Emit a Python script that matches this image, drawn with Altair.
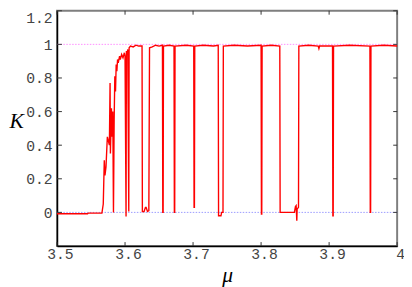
import altair as alt
import pandas as pd

# K(mu)
mu = [
    3.500, 3.545, 3.546, 3.566, 3.568, 3.5695, 3.5705, 3.572, 3.574, 3.577,
    3.578, 3.5785, 3.580, 3.581, 3.582, 3.583, 3.584, 3.585, 3.586, 3.587,
    3.588, 3.589, 3.590, 3.592, 3.593, 3.595, 3.597, 3.599, 3.600, 3.6015,
    3.602, 3.603, 3.604, 3.6055, 3.606, 3.608, 3.612, 3.616, 3.620, 3.625,
    3.6255, 3.6265, 3.628, 3.630, 3.631, 3.633, 3.635, 3.636, 3.640, 3.645,
    3.650, 3.655, 3.6555, 3.656, 3.6565, 3.665, 3.672, 3.6725, 3.673, 3.6735,
    3.690, 3.7010, 3.7015, 3.7020, 3.7025, 3.715, 3.730, 3.737, 3.7375, 3.741,
    3.742, 3.744, 3.7445, 3.760, 3.780, 3.800, 3.8005, 3.801, 3.8015, 3.815,
    3.8275, 3.828, 3.849, 3.8505, 3.8515, 3.852, 3.8525, 3.853, 3.855, 3.8555,
    3.870, 3.884, 3.885, 3.886, 3.905, 3.9055, 3.906, 3.9065, 3.930, 3.960,
    3.9605, 3.961, 3.9615, 3.980, 4.000,
]
K = [
    -0.008, -0.008, -0.004, -0.004, 0.05, 0.31, 0.22, 0.27, 0.45, 0.40,
    0.77, 0.35, 0.62, 0.45, 0.60, 0.00, 0.55, 0.81, 0.72, 0.88,
    0.84, 0.91, 0.89, 0.93, 0.91, 0.94, 0.92, 0.95, 0.93, -0.025,
    0.96, 0.94, 0.97, 0.005, 0.98, 0.99, 0.985, 0.995, 0.99, 0.99,
    0.005, 0.005, 0.005, 0.03, 0.03, 0.005, 0.01, 0.98, 0.985, 0.995,
    0.99, 0.995, 0.0, 0.0, 0.99, 0.995, 0.99, 0.0, 0.0, 0.99,
    0.995, 0.99, 0.03, 0.03, 0.99, 0.995, 0.99, 0.995, -0.02, -0.02,
    0.0, 0.0, 0.99, 0.995, 0.99, 0.995, -0.01, -0.01, 0.99, 0.995,
    0.99, 0.0, 0.0, 0.035, 0.04, 0.0, -0.05, 0.02, 0.03, 0.99,
    0.995, 0.99, 0.975, 0.99, 0.99, -0.02, -0.02, 0.99, 0.995, 0.99,
    0.0, 0.0, 0.99, 0.995, 0.99,
]

x_ticks = [3.5, 3.6, 3.7, 3.8, 3.9, 4.0]
y_ticks = [0, 0.2, 0.4, 0.6, 0.8, 1.0, 1.2]
ref_levels = [0, 1]
ref_colors = ["#9a9aff", "#ff8cff"]

W, H = 347, 240
xs = alt.Scale(domain=[3.5, 4.0], nice=False, zero=False)
ys = alt.Scale(domain=[-0.2, 1.2], nice=False, zero=False)

df = pd.DataFrame({"mu": mu, "K": K, "i": list(range(len(mu)))})
ref_df = pd.DataFrame({"level": ref_levels, "c": ref_colors})
xt_df = pd.DataFrame({"v": x_ticks})
yt_df = pd.DataFrame({"v": y_ticks})

font_mono = "'Liberation Mono', 'DejaVu Sans Mono', monospace"
font_serif = "'Liberation Serif', 'DejaVu Serif', serif"

ax_x = alt.Axis(
    values=x_ticks, format="~g", ticks=False, grid=False, domain=True,
    domainColor="#000000", domainWidth=1.5, labelPadding=1, labelOffset=3,
    labelFlush=False,
    labelFont=font_mono, labelFontSize=15, labelColor="#444444",
    title="μ", titleFont=font_serif, titleFontStyle="italic",
    titleFontWeight="normal", titleFontSize=22, titleColor="#000000",
    titleBaseline="alphabetic", titleY=36)
ax_y = alt.Axis(
    values=y_ticks, format="~g", ticks=False, grid=False, domain=True,
    domainColor="#000000", domainWidth=1.5, labelPadding=5, labelFlush=True,
    labelFont=font_mono, labelFontSize=15, labelColor="#444444",
    title="K", titleFont=font_serif, titleFontStyle="italic",
    titleFontWeight="normal", titleFontSize=22, titleColor="#000000",
    titleAngle=0, titleAlign="left", titleBaseline="middle",
    titleX=-49, titleY=112)

refs = alt.Chart(ref_df).mark_rule(strokeWidth=1, strokeDash=[1.5, 1.5]).encode(
    y=alt.Y("level:Q", scale=ys, axis=ax_y),
    color=alt.Color("c:N", scale=None, legend=None),
)

line = alt.Chart(df).mark_line(color="#ff0000", strokeWidth=1.4).encode(
    x=alt.X("mu:Q", scale=xs, axis=ax_x),
    y=alt.Y("K:Q", scale=ys, axis=ax_y),
    order="i:Q",
)

tick_col = "#333333"
xt_bottom = alt.Chart(xt_df).mark_rule(color=tick_col, strokeWidth=1).encode(
    x=alt.X("v:Q", scale=xs, axis=ax_x), y=alt.value(H), y2=alt.value(H - 4))
xt_top = alt.Chart(xt_df).mark_rule(color=tick_col, strokeWidth=1).encode(
    x=alt.X("v:Q", scale=xs, axis=ax_x), y=alt.value(0), y2=alt.value(4))
yt_left = alt.Chart(yt_df).mark_rule(color=tick_col, strokeWidth=1).encode(
    y=alt.Y("v:Q", scale=ys, axis=ax_y), x=alt.value(0), x2=alt.value(5))
yt_right = alt.Chart(yt_df).mark_rule(color=tick_col, strokeWidth=1).encode(
    y=alt.Y("v:Q", scale=ys, axis=ax_y), x=alt.value(W), x2=alt.value(W - 4))

chart = alt.layer(refs, line, xt_bottom, xt_top, yt_left, yt_right).properties(
    width=W, height=H,
    autosize=alt.AutoSizeParams(type="none"),
    padding={"left": 50, "top": 0, "right": 7, "bottom": 39},
    background="#ffffff",
).configure_view(stroke="#7f7f7f", strokeWidth=2)

chart.save("out.html", embed_options={"renderer": "svg", "actions": False})
